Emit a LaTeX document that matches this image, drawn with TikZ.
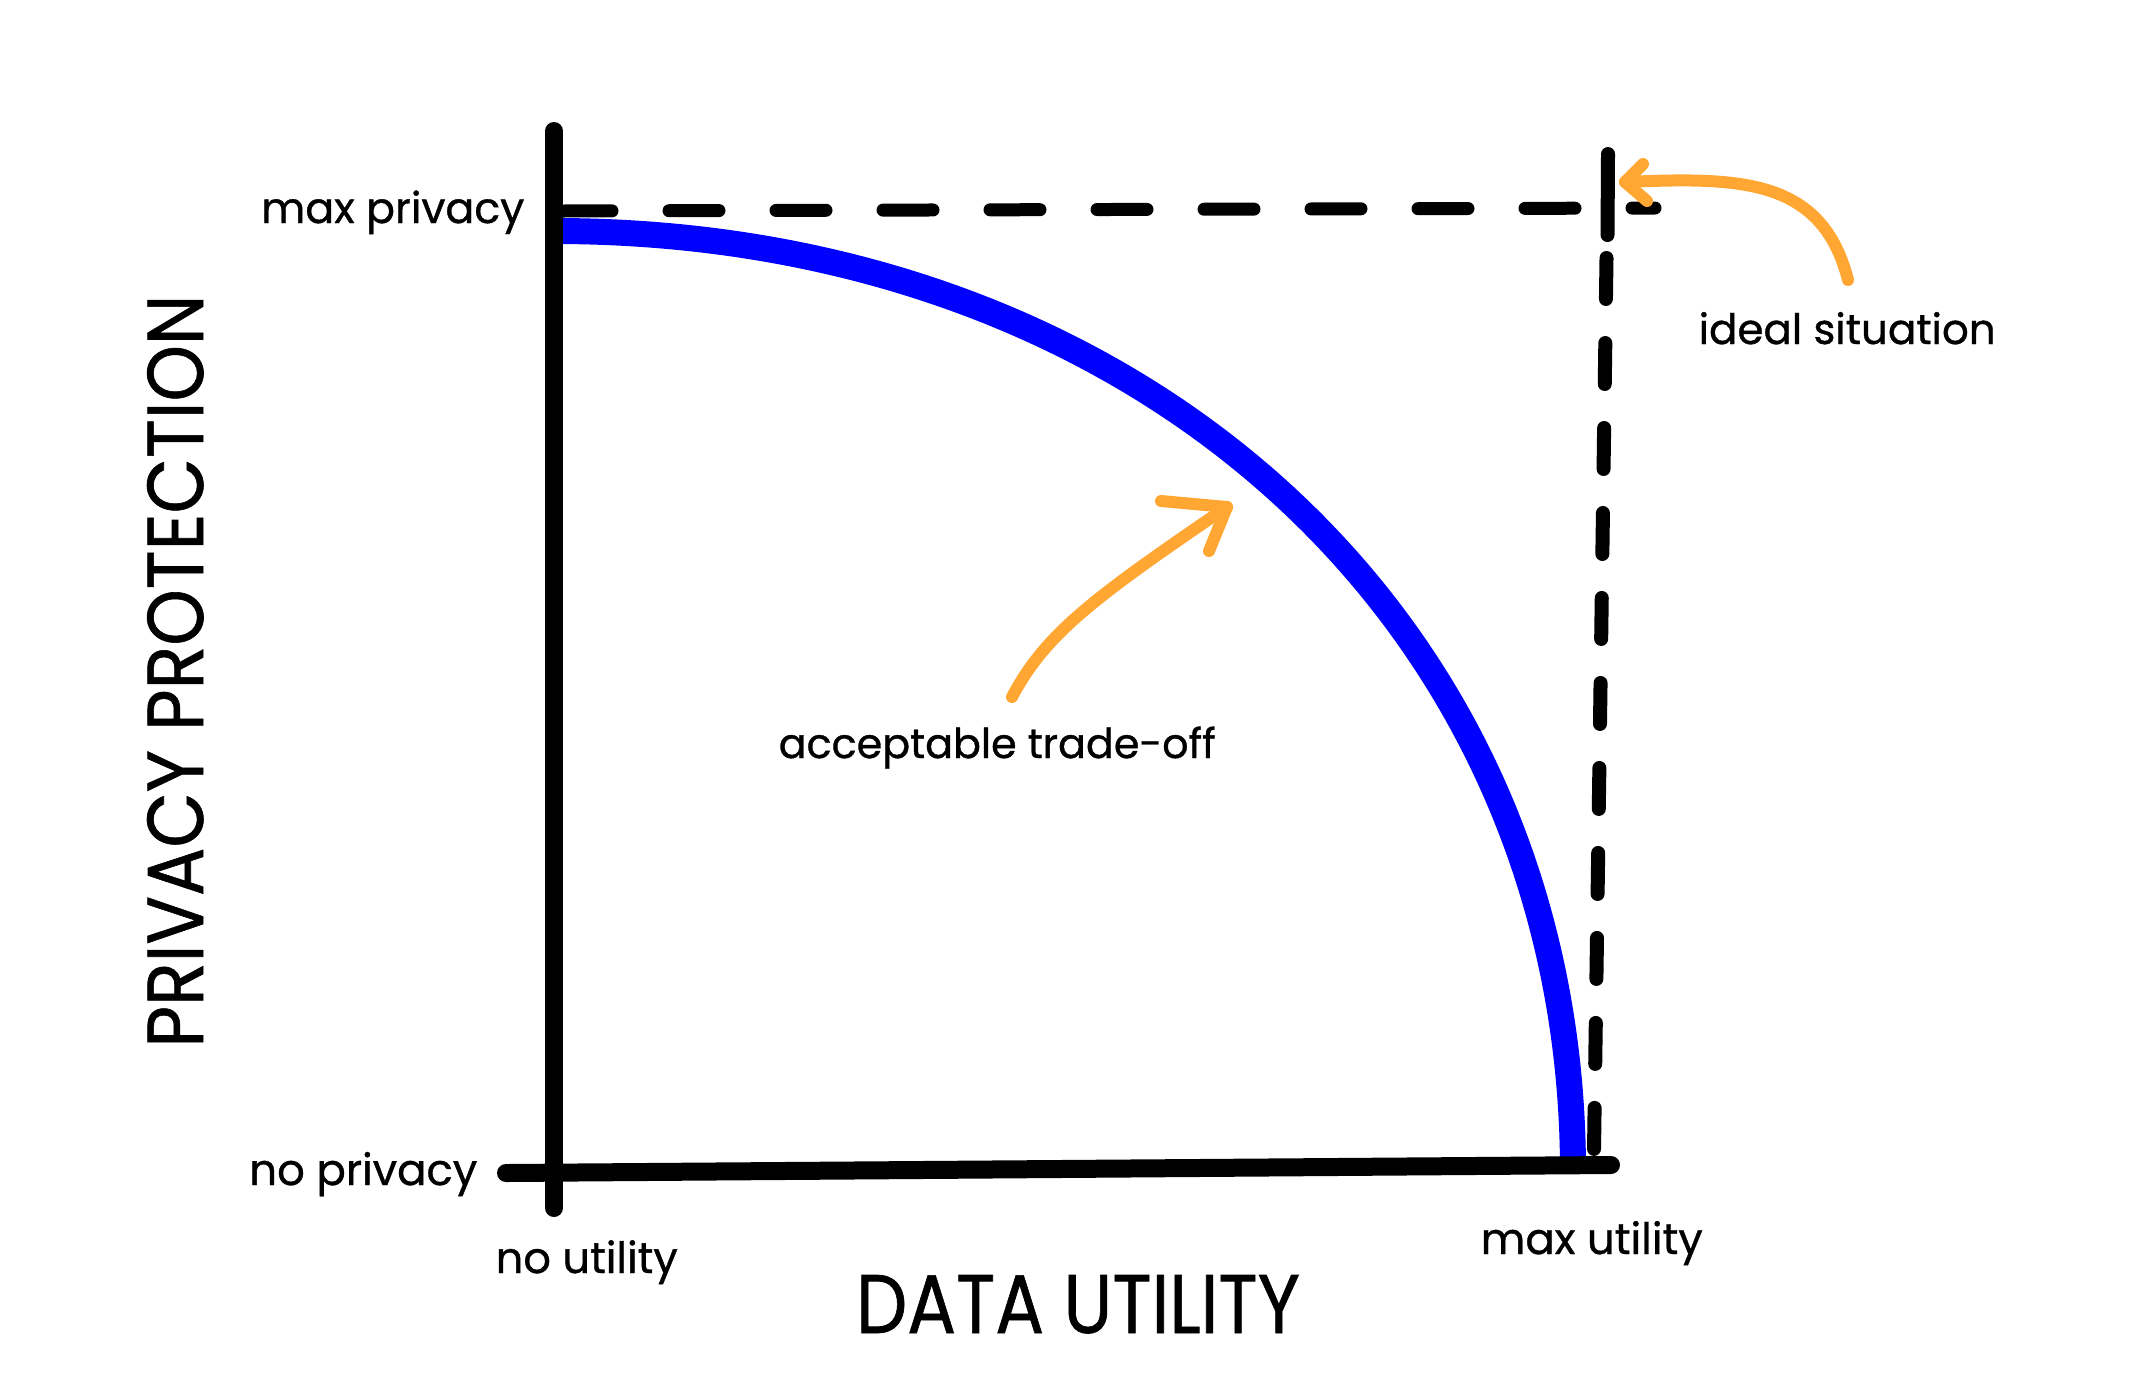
\documentclass[tikz,border=0pt]{standalone}
\usepackage{fontspec}
\setmainfont[FakeBold=0.8]{Poppins}
\usepackage{graphicx}
\definecolor{arroworange}{RGB}{255,166,51}
\definecolor{curveblue}{RGB}{0,0,255}
\begin{document}
\begin{tikzpicture}[x=0.1mm,y=-0.1mm,
  axisline/.style={line width=1.8mm, line cap=round, draw=black},
  guide/.style={line width=1.3mm, line cap=round, draw=black},
  frontier/.style={line width=2.6mm, draw=curveblue},
  pointer/.style={line width=1.2mm, draw=arroworange, line cap=round, line join=round},
  lbl/.style={inner sep=0pt, font=\fontsize{13}{15}\selectfont},
  biglbl/.style={inner sep=0pt, font=\fontsize{24}{26}\selectfont}]
\useasboundingbox[fill=white] (0,0) rectangle (2149,1381);

% frontier curve
\coordinate (cstart) at (554,231);
\coordinate (cend) at (1573,1172);
\draw[frontier] (cstart) .. controls (1145,231) and (1573,626) .. (cend);

% dashed guides
\coordinate (hl) at (562,211);
\coordinate (hr) at (1655,208);
\draw[guide, dash pattern=on 5mm off 5.7mm] (hl) -- (hr);
\coordinate (vt) at (1608,154);
\coordinate (vt2) at (1607.5,235);
\coordinate (vd) at (1606.5,258);
\coordinate (vb) at (1594,1150);
\draw[guide, line width=1.4mm] (vt) -- (vt2);
\draw[guide, line width=1.4mm, dash pattern=on 4.1mm off 4.4mm] (vd) -- (vb);

% axes
\coordinate (yt) at (554,131);
\coordinate (yb) at (554,1208);
\coordinate (xl) at (506,1173);
\coordinate (xr) at (1611,1165);
\draw[axisline] (yt) -- (yb);
\draw[axisline] (xl) -- (xr);

% labels
\node[lbl, anchor=base east] (maxp) at (525,223) {\resizebox{26.3mm}{!}{max privacy}};
\node[lbl, anchor=base east] (nop) at (478,1185) {\resizebox{22.8mm}{!}{no privacy}};
\node[lbl, anchor=base west] (nou) at (495,1273) {\resizebox{18.2mm}{!}{no utility}};
\node[lbl, anchor=base west] (maxu) at (1480,1254) {\resizebox{22.2mm}{!}{max utility}};
\node[lbl, anchor=base west] (ideal) at (1698,344) {\resizebox{29.7mm}{!}{ideal situation}};
\node[lbl, anchor=base west] (trade) at (778,758) {\resizebox{43.7mm}{!}{acceptable trade-off}};
\node[biglbl, anchor=base] (du) at (1078,1333) {\resizebox{44.4mm}{5.8mm}{DATA UTILITY}};
\node[biglbl, anchor=base, rotate=90] (pp) at (203,671) {\resizebox{75.3mm}{5.6mm}{PRIVACY PROTECTION}};

% orange pointers
\coordinate (idealtip) at (1625,182);
\coordinate (idealtail) at (1848,280);
\draw[pointer] (idealtail) .. controls (1822,178) and (1740,177) .. (idealtip);
\draw[pointer] (1643,164) -- (idealtip) -- (1647,201);
\coordinate (tradetip) at (1227,507);
\coordinate (tradetail) at (1012,697);
\draw[pointer] (tradetail) .. controls (1045,635) and (1090,600) .. (tradetip);
\draw[pointer] (1161,501) -- (tradetip) -- (1209,551);
\end{tikzpicture}
\end{document}
